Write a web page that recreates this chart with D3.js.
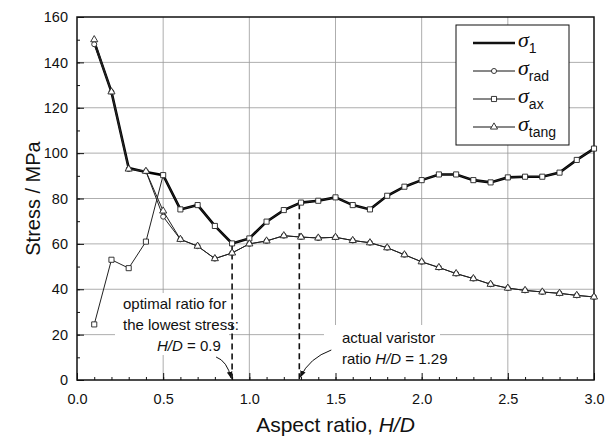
<!DOCTYPE html>
<html lang="en">
<head>
<meta charset="UTF-8">
<title>Stress vs aspect ratio</title>
<script src="https://d3js.org/d3.v7.min.js"></script>
<style>
  body {margin:0;background:#fff;}
  text {font-family:"Liberation Sans", Arial, sans-serif;fill:#111;}
  .grid line {stroke:#999;stroke-width:0.8;}
  .sym {font-family:"Liberation Serif", "DejaVu Serif", serif;font-style:italic;}
</style>
</head>
<body>
<div id="chart"></div>
<script>
const ratios = [0.1,0.2,0.3,0.4,0.5,0.6,0.7,0.8,0.9,1.0,1.1,1.2,1.3,1.4,1.5,1.6,1.7,1.8,1.9,2.0,2.1,2.2,2.3,2.4,2.5,2.6,2.7,2.8,2.9,3.0];
const sigma1 = [149,127,93.4,91.7,90.3,75.2,77.1,67.9,60.2,62.4,69.8,74.9,78.2,79,80.5,77.1,75.2,81.2,85.2,88.1,90.6,90.6,88.1,87.1,89.3,89.6,89.6,91.4,97,102];
const sigmaRad = [148,127,93,92,72,62,59,53.5,56,60,61.3,63.6,63,62.6,62.9,61.5,60.5,58.3,55.2,52.1,49.6,46.9,44.7,42.2,40.5,39.5,38.8,38.2,37.3,36.6];
const sigmaAx = [24.5,53,49.3,61,90.3,75.2,77.1,67.9,60.2,62.4,69.8,74.9,78.2,79,80.5,77.1,75.2,81.2,85.2,88.1,90.6,90.6,88.1,87.1,89.3,89.6,89.6,91.4,97,102];
const sigmaTang = [150,127,93,92,74.5,62,59,53.5,56,60,61.3,63.6,63,62.6,62.9,61.5,60.5,58.3,55.2,52.1,49.6,46.9,44.7,42.2,40.5,39.5,38.8,38.2,37.3,36.6];
const xTicks = [0,0.5,1,1.5,2,2.5,3];
const yTicks = [0,20,40,60,80,100,120,140,160];
const marks = [{ratio:0.9, top:60.2}, {ratio:1.29, top:77.9}];

const width = 615, height = 439;
const margin = {top:17, right:21, bottom:59, left:77};
const W = width - margin.left - margin.right;
const H = height - margin.top - margin.bottom;

const svg = d3.select("#chart").append("svg")
  .attr("width", width).attr("height", height);
const g = svg.append("g").attr("transform", `translate(${margin.left},${margin.top})`);

const x = d3.scaleLinear().domain([0, 3]).range([0, W]);
const y = d3.scaleLinear().domain([0, 160]).range([H, 0]);

// grid
const grid = g.append("g").attr("class", "grid");
grid.selectAll(".gx").data(xTicks.slice(1, -1)).enter().append("line")
  .attr("x1", d => x(d)).attr("x2", d => x(d)).attr("y1", 0).attr("y2", H);
grid.selectAll(".gy").data(yTicks.slice(1, -1)).enter().append("line")
  .attr("x1", 0).attr("x2", W).attr("y1", d => y(d)).attr("y2", d => y(d));

// white boxes behind the notes
g.append("rect").attr("x", 38).attr("y", 276).attr("width", 114).attr("height", 62).attr("fill", "#fff");
g.append("rect").attr("x", 247).attr("y", 308).attr("width", 116).attr("height", 55).attr("fill", "#fff");

// axes
const minorX = d3.range(0, 31).map(i => i / 10);
const minorY = d3.range(0, 17).map(i => i * 10);
g.append("g").attr("transform", `translate(0,${H})`)
  .call(d3.axisBottom(x).tickValues(minorX).tickSize(-3).tickFormat(""))
  .call(a => a.select(".domain").remove());
g.append("g").attr("transform", `translate(0,${H})`)
  .call(d3.axisBottom(x).tickValues(xTicks).tickSize(-7).tickPadding(14).tickFormat(d3.format(".1f")))
  .call(a => a.selectAll("text").attr("font-size", 14.5))
  .call(a => a.select(".domain").remove());
g.append("g")
  .call(d3.axisLeft(y).tickValues(minorY).tickSize(-3).tickFormat(""))
  .call(a => a.select(".domain").remove());
g.append("g")
  .call(d3.axisLeft(y).tickValues(yTicks).tickSize(-7).tickPadding(9))
  .call(a => a.selectAll("text").attr("font-size", 14.5))
  .call(a => a.select(".domain").remove());
g.selectAll(".tick line").attr("stroke", "#111");
g.append("rect").attr("width", W).attr("height", H)
  .attr("fill", "none").attr("stroke", "#111").attr("stroke-width", 1.5);

// dashed markers
g.selectAll(".dash").data(marks).enter().append("line")
  .attr("x1", d => x(d.ratio)).attr("x2", d => x(d.ratio))
  .attr("y1", d => y(d.top)).attr("y2", H)
  .attr("stroke", "#111").attr("stroke-width", 1.6).attr("stroke-dasharray", "6,4");

// series
const line = d3.line().x((d, i) => x(ratios[i])).y(d => y(d));
g.append("path").datum(sigma1).attr("d", line)
  .attr("fill", "none").attr("stroke", "#000").attr("stroke-width", 2.6);

const sym = {
  circle: d3.symbol().type(d3.symbolCircle).size(20),
  square: d3.symbol().type(d3.symbolSquare).size(26),
  triangle: d3.symbol().type(d3.symbolTriangle).size(22)
};
const series = [
  {vals: sigmaAx, shape: "square"},
  {vals: sigmaRad, shape: "circle"},
  {vals: sigmaTang, shape: "triangle"}
];
series.forEach(s => {
  g.append("path").datum(s.vals).attr("d", line)
    .attr("fill", "none").attr("stroke", "#222").attr("stroke-width", 1);
});
series.forEach(s => {
  g.selectAll(null).data(s.vals).enter().append("path")
    .attr("d", sym[s.shape])
    .attr("transform", (d, i) => `translate(${x(ratios[i])},${y(d)})`)
    .attr("fill", "#fff").attr("stroke", "#222").attr("stroke-width", 0.9);
});

// notes
const n1 = g.append("text").attr("font-size", 15);
n1.append("tspan").attr("x", 46).attr("y", 292).text("optimal ratio for");
n1.append("tspan").attr("x", 46).attr("y", 313).text("the lowest stress:");
const n1b = g.append("text").attr("font-size", 15).attr("x", 80).attr("y", 334);
n1b.append("tspan").attr("font-style", "italic").text("H/D");
n1b.append("tspan").text(" = 0.9");
const n2 = g.append("text").attr("font-size", 15);
n2.append("tspan").attr("x", 265).attr("y", 326).text("actual varistor");
const n2b = g.append("text").attr("font-size", 15).attr("x", 265).attr("y", 347);
n2b.append("tspan").text("ratio ");
n2b.append("tspan").attr("font-style", "italic").text("H/D");
n2b.append("tspan").text(" = 1.29");

svg.append("defs").append("marker").attr("id", "ah")
  .attr("viewBox", "0 0 10 10").attr("refX", 9).attr("refY", 5)
  .attr("markerWidth", 7).attr("markerHeight", 7).attr("orient", "auto")
  .append("path").attr("d", "M0,1 L10,5 L0,9 Z").attr("fill", "#111");
g.append("path").attr("d", `M${x(0.9) - 16},${H - 23} Q${x(0.9) - 5},${H - 19} ${x(0.9) - 1},${H - 2}`)
  .attr("fill", "none").attr("stroke", "#111").attr("stroke-width", 1).attr("marker-end", "url(#ah)");
g.append("path").attr("d", `M${x(1.29) + 32},${H - 30} Q${x(1.29) + 10},${H - 22} ${x(1.29) + 1},${H - 3}`)
  .attr("fill", "none").attr("stroke", "#111").attr("stroke-width", 1).attr("marker-end", "url(#ah)");

// legend
const leg = g.append("g").attr("transform", "translate(379,8)");
leg.append("rect").attr("width", 113).attr("height", 120)
  .attr("fill", "#fff").attr("stroke", "#111").attr("stroke-width", 1);
const legItems = [
  {sub: "1", shape: null},
  {sub: "rad", shape: "circle"},
  {sub: "ax", shape: "square"},
  {sub: "tang", shape: "triangle"}
];
legItems.forEach((d, i) => {
  const ly = 18 + i * 28;
  leg.append("line").attr("x1", 17).attr("x2", 59).attr("y1", ly).attr("y2", ly)
    .attr("stroke", "#111").attr("stroke-width", d.shape ? 1 : 2.6);
  if (d.shape) {
    leg.append("path").attr("d", sym[d.shape]).attr("transform", `translate(38,${ly})`)
      .attr("fill", "#fff").attr("stroke", "#222").attr("stroke-width", 0.9);
  }
  const t = leg.append("text").attr("x", 62).attr("y", ly + 4);
  t.append("tspan").attr("class", "sym").attr("font-size", 22).text("σ");
  t.append("tspan").attr("font-size", 14).attr("dy", 6).text(d.sub);
});

// axis titles
svg.append("text").attr("transform", `translate(40,${margin.top + H / 2}) rotate(-90)`)
  .attr("text-anchor", "middle").attr("font-size", 20).text("Stress / MPa");
const xt = svg.append("text").attr("x", margin.left + W / 2).attr("y", 432)
  .attr("text-anchor", "middle").attr("font-size", 21);
xt.append("tspan").text("Aspect ratio, ");
xt.append("tspan").attr("font-style", "italic").text("H/D");
</script>
</body>
</html>
